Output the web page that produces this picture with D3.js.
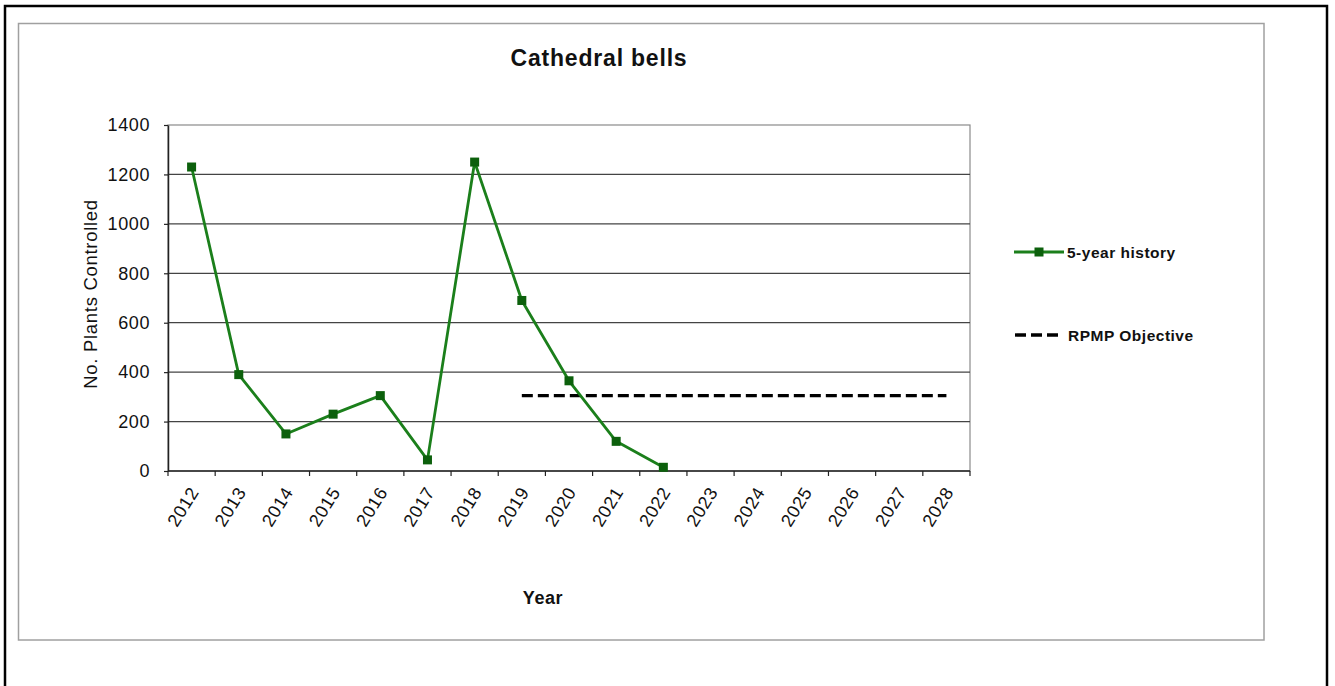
<!DOCTYPE html>
<html>
<head>
<meta charset="utf-8">
<script src="https://cdn.jsdelivr.net/npm/d3@7"></script>
<style>
  html, body { margin: 0; padding: 0; background: #fff; }
  svg { display: block; font-family: "Liberation Sans", Arial, sans-serif; }
</style>
</head>
<body>
<svg id="chart" width="1335" height="686"></svg>
<script>
// ---- data ----
const years = ["2012","2013","2014","2015","2016","2017","2018","2019","2020","2021","2022","2023","2024","2025","2026","2027","2028"];
const historyYears = ["2012","2013","2014","2015","2016","2017","2018","2019","2020","2021","2022"];
const historyValues = [1230, 390, 150, 230, 305, 45, 1250, 690, 365, 120, 15];
const objectiveYears = ["2019","2020","2021","2022","2023","2024","2025","2026","2027","2028"];
const objectiveValues = [305, 305, 305, 305, 305, 305, 305, 305, 305, 305];
const yTicks = [0, 200, 400, 600, 800, 1000, 1200, 1400];
const chartTitle = "Cathedral bells";
const xTitle = "Year";
const yTitle = "No. Plants Controlled";
const seriesNames = ["5-year history", "RPMP Objective"];

// ---- layout ----
const svg = d3.select("#chart");
const plot = { left: 168, right: 970, top: 125, bottom: 471 };
const green = "#1b7f1b";
const markerGreen = "#0c600c";

const x = d3.scaleBand().domain(years).range([plot.left, plot.right]);
const y = d3.scaleLinear().domain([0, 1400]).range([plot.bottom, plot.top]);
const cx = d => x(d) + x.bandwidth() / 2;

// outer black frame
svg.append("rect").attr("x", 5).attr("y", 6).attr("width", 1322).attr("height", 720)
  .attr("fill", "none").attr("stroke", "#000").attr("stroke-width", 2.5);
// chart area grey frame
svg.append("rect").attr("x", 18.5).attr("y", 23.5).attr("width", 1245.5).attr("height", 616.5)
  .attr("fill", "#fff").attr("stroke", "#a0a0a0").attr("stroke-width", 1.5);

// plot area border (top/right grey)
svg.append("rect").attr("x", plot.left).attr("y", plot.top)
  .attr("width", plot.right - plot.left).attr("height", plot.bottom - plot.top)
  .attr("fill", "#fff").attr("stroke", "#8a8a8a").attr("stroke-width", 1.2);

// gridlines
svg.append("g").selectAll("line").data(yTicks.filter(v => v > 0 && v < 1400)).join("line")
  .attr("x1", plot.left).attr("x2", plot.right)
  .attr("y1", d => y(d)).attr("y2", d => y(d))
  .attr("stroke", "#444").attr("stroke-width", 1.3);

// y axis
const yAxis = svg.append("g").attr("transform", `translate(${plot.left},0)`)
  .call(d3.axisLeft(y).tickValues(yTicks).tickFormat(d3.format("d"))
    .tickSize(4).tickPadding(14).tickSizeOuter(0));
yAxis.select(".domain").attr("stroke", "#222").attr("stroke-width", 1.5);
yAxis.selectAll(".tick line").attr("stroke", "#222").attr("stroke-width", 1.2);
yAxis.selectAll(".tick text").attr("font-size", 18).attr("fill", "#111")
  .attr("font-family", "Liberation Sans, Arial, sans-serif").style("letter-spacing", "0.6px");

// x axis line
svg.append("line").attr("x1", plot.left).attr("x2", plot.right)
  .attr("y1", plot.bottom).attr("y2", plot.bottom)
  .attr("stroke", "#222").attr("stroke-width", 1.5);
// x ticks at category boundaries
const bounds = years.map(d => x(d)).concat([plot.right]);
svg.append("g").selectAll("line").data(bounds).join("line")
  .attr("x1", d => d).attr("x2", d => d)
  .attr("y1", plot.bottom).attr("y2", plot.bottom + 5)
  .attr("stroke", "#222").attr("stroke-width", 1.2);
// x tick labels (rotated)
svg.append("g").selectAll("text").data(years).join("text")
  .attr("transform", d => `translate(${cx(d) + 8},${plot.bottom + 21}) rotate(-58)`)
  .attr("text-anchor", "end")
  .attr("font-size", 18).attr("fill", "#111").style("letter-spacing", "0.6px")
  .text(d => d);

// titles
svg.append("text").attr("x", 599).attr("y", 66).attr("text-anchor", "middle")
  .attr("font-size", 23).attr("font-weight", "bold").style("letter-spacing", "0.8px")
  .attr("fill", "#111").text(chartTitle);
svg.append("text").attr("x", 543).attr("y", 604).attr("text-anchor", "middle")
  .attr("font-size", 18).attr("font-weight", "bold").style("letter-spacing", "0.6px")
  .attr("fill", "#111").text(xTitle);
svg.append("text").attr("transform", "translate(97,294) rotate(-90)").attr("text-anchor", "middle")
  .attr("font-size", 18.5).style("letter-spacing", "0.7px")
  .attr("fill", "#111").text(yTitle);

// objective dashed line
const objData = objectiveYears.map((d, i) => ({ year: d, value: objectiveValues[i] }));
svg.append("path").datum(objData)
  .attr("d", d3.line().x(d => cx(d.year)).y(d => y(d.value)))
  .attr("fill", "none").attr("stroke", "#000").attr("stroke-width", 3.4)
  .attr("stroke-dasharray", "11,5");

// history line
const histData = historyYears.map((d, i) => ({ year: d, value: historyValues[i] }));
svg.append("path").datum(histData)
  .attr("d", d3.line().x(d => cx(d.year)).y(d => y(d.value)))
  .attr("fill", "none").attr("stroke", green).attr("stroke-width", 2.8)
  .attr("stroke-linejoin", "round");
svg.append("g").selectAll("rect").data(histData).join("rect")
  .attr("x", d => cx(d.year) - 4.5).attr("y", d => y(d.value) - 4.5)
  .attr("width", 9).attr("height", 9).attr("fill", markerGreen);

// legend
const lg = svg.append("g");
lg.append("line").attr("x1", 1014).attr("x2", 1064).attr("y1", 252).attr("y2", 252)
  .attr("stroke", green).attr("stroke-width", 2.8);
lg.append("rect").attr("x", 1034.5).attr("y", 247.5).attr("width", 9).attr("height", 9).attr("fill", markerGreen);
lg.append("text").attr("x", 1067).attr("y", 257.5).attr("font-size", 15.5).attr("font-weight", "bold")
  .style("letter-spacing", "0.5px").attr("fill", "#111").text(seriesNames[0]);
lg.append("line").attr("x1", 1015).attr("x2", 1062).attr("y1", 335).attr("y2", 335)
  .attr("stroke", "#000").attr("stroke-width", 3.4).attr("stroke-dasharray", "11,5");
lg.append("text").attr("x", 1068).attr("y", 340.5).attr("font-size", 15.5).attr("font-weight", "bold")
  .style("letter-spacing", "0.5px").attr("fill", "#111").text(seriesNames[1]);
</script>
</body>
</html>
